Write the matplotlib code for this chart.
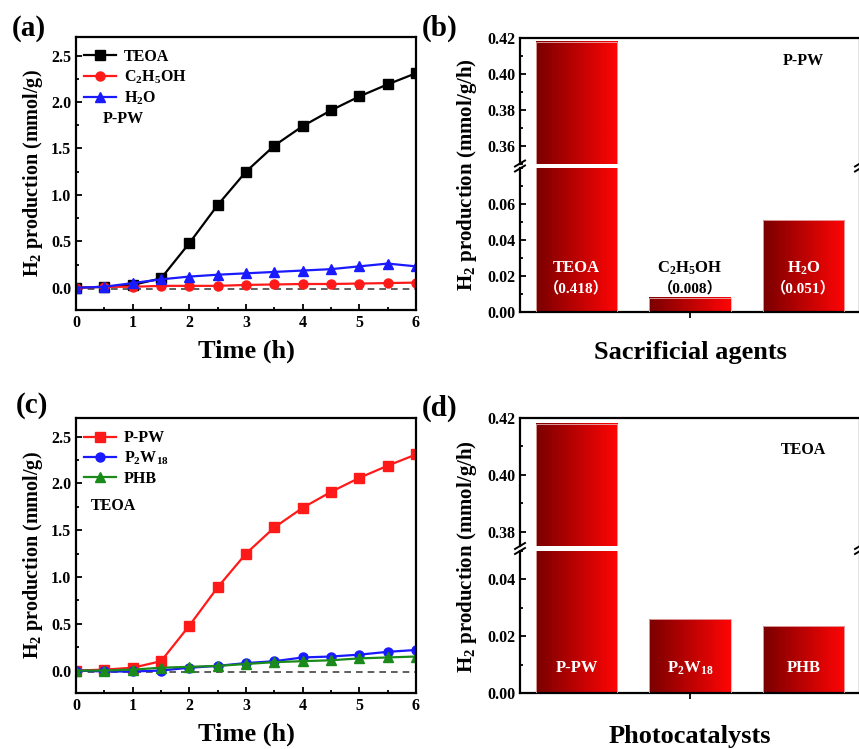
import numpy as np
import matplotlib
matplotlib.use('Agg')
import matplotlib.pyplot as plt
from matplotlib.colors import LinearSegmentedColormap
from matplotlib.ticker import MultipleLocator
from matplotlib.lines import Line2D

plt.rcParams['font.family'] = ['Liberation Serif', 'Noto Sans CJK SC']
plt.rcParams['font.weight'] = 'bold'
plt.rcParams['mathtext.fontset'] = 'custom'
plt.rcParams['mathtext.rm'] = 'Liberation Serif:bold'
plt.rcParams['mathtext.it'] = 'Liberation Serif:bold'
plt.rcParams['mathtext.bf'] = 'Liberation Serif:bold'

# ---------------- data ----------------
time_h = [0, 0.5, 1, 1.5, 2, 2.5, 3, 3.5, 4, 4.5, 5, 5.5, 6]

# (a) P-PW with different sacrificial agents (mmol/g)
teoa = [0, 0.01, 0.03, 0.10, 0.48, 0.89, 1.25, 1.53, 1.74, 1.91, 2.06, 2.19, 2.31]
ethanol = [0, 0.01, 0.01, 0.02, 0.02, 0.02, 0.03, 0.035, 0.04, 0.04, 0.045, 0.05, 0.055]
water = [0, 0.01, 0.05, 0.09, 0.12, 0.14, 0.155, 0.17, 0.185, 0.20, 0.23, 0.26, 0.23]

# (c) different photocatalysts with TEOA (mmol/g)
ppw = [0, 0.01, 0.03, 0.10, 0.48, 0.89, 1.25, 1.53, 1.74, 1.91, 2.06, 2.19, 2.31]
p2w18 = [0, -0.01, -0.01, 0.0, 0.03, 0.05, 0.08, 0.10, 0.14, 0.15, 0.17, 0.20, 0.22]
phb = [0, 0.0, 0.01, 0.03, 0.04, 0.05, 0.07, 0.09, 0.10, 0.11, 0.13, 0.14, 0.15]

# (b) rates (mmol/g/h)
agents = ['TEOA', r'C$_2$H$_5$OH', r'H$_2$O']
agent_rates = [0.418, 0.008, 0.051]
agent_rate_text = ['（0.418）', '（0.008）', '（0.051）']

# (d) rates (mmol/g/h)
catalysts = ['P-PW', r'P$_2$W$_{18}$', 'PHB']
catalyst_rates = [0.418, 0.026, 0.0235]

W, H = 859, 749
fig = plt.figure(figsize=(W / 100, H / 100), dpi=100)


def px_axes(x0, y_top, x1, y_bot):
    return fig.add_axes([x0 / W, 1 - y_bot / H, (x1 - x0) / W, (y_bot - y_top) / H])


grad_cmap = LinearSegmentedColormap.from_list('bar', ['#7a0000', '#ff0505'])
grad = np.linspace(0, 1, 256).reshape(1, -1)


def line_panel(ax, series, labels, colors, markers, note, note_x, note_y):
    for vals, lab, c, m in zip(series, labels, colors, markers):
        ax.plot(time_h, vals, color=c, marker=m, markersize=6.5, linewidth=1.6, label=lab)
    ax.plot([0, 6], [-0.015, -0.015], color='#444444', linestyle=(0, (4, 3)), linewidth=1.2, zorder=0)
    ax.set_xlim(0, 6)
    ax.set_ylim(-0.24, 2.7)
    ax.xaxis.set_major_locator(MultipleLocator(1))
    ax.xaxis.set_minor_locator(MultipleLocator(0.5))
    ax.yaxis.set_minor_locator(MultipleLocator(0.25))
    ax.set_yticks([0, 0.5, 1.0, 1.5, 2.0, 2.5])
    ax.tick_params(which='both', direction='in', width=1.3, labelsize=11.5)
    ax.tick_params(which='major', length=4)
    ax.tick_params(which='minor', length=2.5)
    for s in ax.spines.values():
        s.set_linewidth(1.6)
    ax.set_xlabel('Time (h)', fontsize=19, fontweight='bold', labelpad=6)
    ax.set_ylabel(r'H$_2$ production (mmol/g)', fontsize=14.5, fontweight='bold', labelpad=4)
    ax.legend(loc='upper left', frameon=False, fontsize=11.5, handlelength=2.0,
              handletextpad=0.5, labelspacing=0.22, borderpad=0.2, borderaxespad=0.3,
              bbox_to_anchor=(0.0, 0.985))
    ax.text(note_x, note_y, note, transform=ax.transAxes, fontsize=11.5, fontweight='bold', va='center')


def gradient_bars(ax, vals, lim):
    x = np.arange(len(vals))
    bars = ax.bar(x, vals, width=0.72, color='none', edgecolor='#e8b0b0', linewidth=0.6, zorder=3)
    for b in bars:
        bx = b.get_x()
        y0 = max(b.get_y(), lim[0])
        y1 = min(b.get_y() + b.get_height(), lim[1])
        if y1 <= y0:
            continue
        ax.imshow(grad, cmap=grad_cmap, aspect='auto', zorder=2,
                  extent=[bx, bx + b.get_width(), y0, y1])
    return x


def bar_panel(x0, y_top, y_break_top, y_break_bot, y_bot, vals, upper_lim, lower_lim,
              upper_ticks, lower_ticks):
    ax_up = px_axes(x0, y_top, x0 + 340, y_break_top)
    ax_lo = px_axes(x0, y_break_bot, x0 + 340, y_bot)
    for ax, lim in ((ax_up, upper_lim), (ax_lo, lower_lim)):
        gradient_bars(ax, vals, lim)
        ax.set_xlim(-0.5, 2.5)
        ax.set_ylim(*lim)
        for s in ax.spines.values():
            s.set_linewidth(1.6)
        ax.yaxis.set_minor_locator(MultipleLocator(0.01))
        ax.tick_params(which='both', direction='in', width=1.3, labelsize=11.5)
        ax.tick_params(which='major', length=4)
        ax.tick_params(which='minor', length=2.5)
    ax_up.set_yticks(upper_ticks)
    ax_lo.set_yticks(lower_ticks)
    ax_up.set_yticklabels(['%.2f' % t for t in upper_ticks])
    ax_lo.set_yticklabels(['%.2f' % t for t in lower_ticks])
    ax_up.spines['bottom'].set_visible(False)
    ax_up.set_xticks([])
    ax_lo.spines['top'].set_visible(False)
    ax_lo.set_xticks([1])
    ax_lo.set_xticklabels([''])
    ax_lo.tick_params(axis='x', direction='out', length=4, width=1.3)
    # break marks on both side spines
    ym = 1 - (y_break_top + y_break_bot) / 2 / H
    for xs in (x0, x0 + 340):
        for dy in (-2.5, 2.5):
            xf = xs / W
            fig.add_artist(Line2D([xf - 5 / W, xf + 5 / W],
                                  [ym + (dy - 3) / H, ym + (dy + 3) / H],
                                  color='black', linewidth=1.4))
    return ax_up, ax_lo


# ---------------- (a) ----------------
ax_a = px_axes(76, 37, 416, 310)
line_panel(ax_a, [teoa, ethanol, water], ['TEOA', r'C$_2$H$_5$OH', r'H$_2$O'],
           ['black', '#ff1a1a', '#1a1aff'], ['s', 'o', '^'], 'P-PW', 0.08, 0.70)

# ---------------- (c) ----------------
ax_c = px_axes(76, 418, 416, 693)
line_panel(ax_c, [ppw, p2w18, phb], ['P-PW', r'P$_2$W$_{18}$', 'PHB'],
           ['#ff1a1a', '#1a1aff', '#1a8a1a'], ['s', 'o', '^'], 'TEOA', 0.045, 0.68)

# ---------------- (b) ----------------
b_up, b_lo = bar_panel(520, 38, 164, 168, 312, agent_rates, (0.35, 0.42), (0, 0.08),
                       [0.36, 0.38, 0.40, 0.42], [0.00, 0.02, 0.04, 0.06])
b_up.text(2.0, 0.405, 'P-PW', ha='center', fontsize=11.5, fontweight='bold')
for i, (name, rate) in enumerate(zip(agents, agent_rate_text)):
    col = 'black' if i == 1 else 'white'
    b_lo.text(i, 0.0245, name, ha='center', va='center', color=col, fontsize=12, fontweight='bold', zorder=5)
    b_lo.text(i, 0.0135, rate, ha='center', va='center', color=col, fontsize=11, fontweight='bold', zorder=5)
fig.text(467 / W, 1 - 175 / H, r'H$_2$ production (mmol/g/h)', rotation=90, ha='center', va='center',
         fontsize=15, fontweight='bold')
fig.text(690 / W, 1 - 352 / H, 'Sacrificial agents', ha='center', va='center', fontsize=19, fontweight='bold')

# ---------------- (d) ----------------
d_up, d_lo = bar_panel(520, 418, 546, 551, 693, catalyst_rates, (0.375, 0.42), (0, 0.05),
                       [0.38, 0.40, 0.42], [0.00, 0.02, 0.04])
d_up.text(2.0, 0.4075, 'TEOA', ha='center', fontsize=11.5, fontweight='bold')
for i, name in enumerate(catalysts):
    d_lo.text(i, 0.0088, name, ha='center', va='center', color='white', fontsize=12, fontweight='bold', zorder=5)
fig.text(467 / W, 1 - 557 / H, r'H$_2$ production (mmol/g/h)', rotation=90, ha='center', va='center',
         fontsize=15, fontweight='bold')
fig.text(690 / W, 1 - 737 / H, 'Photocatalysts', ha='center', va='center', fontsize=19, fontweight='bold')

# panel letters
for lab, x, y in [('(a)', 12, 28), ('(b)', 422, 28), ('(c)', 16, 405), ('(d)', 422, 408)]:
    fig.text(x / W, 1 - y / H, lab, ha='left', va='center', fontsize=21, fontweight='bold')

fig.savefig('out.png', dpi=100)
